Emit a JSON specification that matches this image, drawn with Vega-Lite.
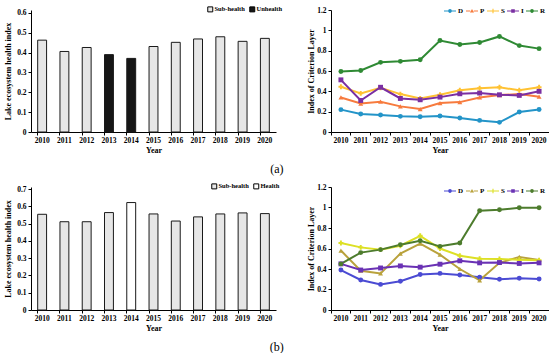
{
  "$schema": "https://vega.github.io/schema/vega-lite/v6.json",
  "padding": {"top": 5, "left": 4, "right": 0, "bottom": 0},
  "background": "white",
  "config": {
    "view": {"stroke": null},
    "font": "Liberation Serif",
    "axis": {
      "domainColor": "#000000", "tickColor": "#000000", "labelColor": "#000000", "titleColor": "#000000",
      "labelFont": "Liberation Serif", "titleFont": "Liberation Serif",
      "labelFontWeight": "bold", "titleFontWeight": "bold",
      "labelFontSize": 7.5, "titleFontSize": 8, "tickSize": 3, "grid": false, "domainWidth": 1, "tickWidth": 1
    },
    "legend": {"labelFont": "Liberation Serif", "labelFontWeight": "bold", "labelFontSize": 7, "labelColor": "#000000"}
  },
  "datasets": {
    "barsA": [
      {"Year": 2010, "Value": 0.463, "Status": "Sub-health"},
      {"Year": 2011, "Value": 0.406, "Status": "Sub-health"},
      {"Year": 2012, "Value": 0.426, "Status": "Sub-health"},
      {"Year": 2013, "Value": 0.39, "Status": "Unhealth"},
      {"Year": 2014, "Value": 0.371, "Status": "Unhealth"},
      {"Year": 2015, "Value": 0.431, "Status": "Sub-health"},
      {"Year": 2016, "Value": 0.452, "Status": "Sub-health"},
      {"Year": 2017, "Value": 0.469, "Status": "Sub-health"},
      {"Year": 2018, "Value": 0.48, "Status": "Sub-health"},
      {"Year": 2019, "Value": 0.457, "Status": "Sub-health"},
      {"Year": 2020, "Value": 0.472, "Status": "Sub-health"}
    ],
    "barsB": [
      {"Year": 2010, "Value": 0.554, "Status": "Sub-health"},
      {"Year": 2011, "Value": 0.511, "Status": "Sub-health"},
      {"Year": 2012, "Value": 0.511, "Status": "Sub-health"},
      {"Year": 2013, "Value": 0.564, "Status": "Sub-health"},
      {"Year": 2014, "Value": 0.622, "Status": "Health"},
      {"Year": 2015, "Value": 0.556, "Status": "Sub-health"},
      {"Year": 2016, "Value": 0.515, "Status": "Sub-health"},
      {"Year": 2017, "Value": 0.539, "Status": "Sub-health"},
      {"Year": 2018, "Value": 0.556, "Status": "Sub-health"},
      {"Year": 2019, "Value": 0.562, "Status": "Sub-health"},
      {"Year": 2020, "Value": 0.558, "Status": "Sub-health"}
    ],
    "linesA": [
      {"Year": 2010, "Index": "D", "Value": 0.22}, {"Year": 2011, "Index": "D", "Value": 0.177}, {"Year": 2012, "Index": "D", "Value": 0.167}, {"Year": 2013, "Index": "D", "Value": 0.154}, {"Year": 2014, "Index": "D", "Value": 0.15}, {"Year": 2015, "Index": "D", "Value": 0.157}, {"Year": 2016, "Index": "D", "Value": 0.137}, {"Year": 2017, "Index": "D", "Value": 0.114}, {"Year": 2018, "Index": "D", "Value": 0.095}, {"Year": 2019, "Index": "D", "Value": 0.196}, {"Year": 2020, "Index": "D", "Value": 0.222},
      {"Year": 2010, "Index": "P", "Value": 0.34}, {"Year": 2011, "Index": "P", "Value": 0.28}, {"Year": 2012, "Index": "P", "Value": 0.298}, {"Year": 2013, "Index": "P", "Value": 0.252}, {"Year": 2014, "Index": "P", "Value": 0.226}, {"Year": 2015, "Index": "P", "Value": 0.285}, {"Year": 2016, "Index": "P", "Value": 0.294}, {"Year": 2017, "Index": "P", "Value": 0.34}, {"Year": 2018, "Index": "P", "Value": 0.363}, {"Year": 2019, "Index": "P", "Value": 0.373}, {"Year": 2020, "Index": "P", "Value": 0.347},
      {"Year": 2010, "Index": "S", "Value": 0.445}, {"Year": 2011, "Index": "S", "Value": 0.38}, {"Year": 2012, "Index": "S", "Value": 0.435}, {"Year": 2013, "Index": "S", "Value": 0.373}, {"Year": 2014, "Index": "S", "Value": 0.33}, {"Year": 2015, "Index": "S", "Value": 0.366}, {"Year": 2016, "Index": "S", "Value": 0.41}, {"Year": 2017, "Index": "S", "Value": 0.43}, {"Year": 2018, "Index": "S", "Value": 0.44}, {"Year": 2019, "Index": "S", "Value": 0.41}, {"Year": 2020, "Index": "S", "Value": 0.44},
      {"Year": 2010, "Index": "I", "Value": 0.513}, {"Year": 2011, "Index": "I", "Value": 0.31}, {"Year": 2012, "Index": "I", "Value": 0.44}, {"Year": 2013, "Index": "I", "Value": 0.33}, {"Year": 2014, "Index": "I", "Value": 0.317}, {"Year": 2015, "Index": "I", "Value": 0.343}, {"Year": 2016, "Index": "I", "Value": 0.376}, {"Year": 2017, "Index": "I", "Value": 0.383}, {"Year": 2018, "Index": "I", "Value": 0.366}, {"Year": 2019, "Index": "I", "Value": 0.36}, {"Year": 2020, "Index": "I", "Value": 0.4},
      {"Year": 2010, "Index": "R", "Value": 0.595}, {"Year": 2011, "Index": "R", "Value": 0.605}, {"Year": 2012, "Index": "R", "Value": 0.685}, {"Year": 2013, "Index": "R", "Value": 0.695}, {"Year": 2014, "Index": "R", "Value": 0.71}, {"Year": 2015, "Index": "R", "Value": 0.9}, {"Year": 2016, "Index": "R", "Value": 0.86}, {"Year": 2017, "Index": "R", "Value": 0.88}, {"Year": 2018, "Index": "R", "Value": 0.94}, {"Year": 2019, "Index": "R", "Value": 0.85}, {"Year": 2020, "Index": "R", "Value": 0.82}
    ],
    "linesB": [
      {"Year": 2010, "Index": "D", "Value": 0.39}, {"Year": 2011, "Index": "D", "Value": 0.293}, {"Year": 2012, "Index": "D", "Value": 0.25}, {"Year": 2013, "Index": "D", "Value": 0.28}, {"Year": 2014, "Index": "D", "Value": 0.347}, {"Year": 2015, "Index": "D", "Value": 0.357}, {"Year": 2016, "Index": "D", "Value": 0.341}, {"Year": 2017, "Index": "D", "Value": 0.32}, {"Year": 2018, "Index": "D", "Value": 0.3}, {"Year": 2019, "Index": "D", "Value": 0.31}, {"Year": 2020, "Index": "D", "Value": 0.302},
      {"Year": 2010, "Index": "P", "Value": 0.58}, {"Year": 2011, "Index": "P", "Value": 0.383}, {"Year": 2012, "Index": "P", "Value": 0.357}, {"Year": 2013, "Index": "P", "Value": 0.55}, {"Year": 2014, "Index": "P", "Value": 0.647}, {"Year": 2015, "Index": "P", "Value": 0.54}, {"Year": 2016, "Index": "P", "Value": 0.4}, {"Year": 2017, "Index": "P", "Value": 0.29}, {"Year": 2018, "Index": "P", "Value": 0.46}, {"Year": 2019, "Index": "P", "Value": 0.518}, {"Year": 2020, "Index": "P", "Value": 0.489},
      {"Year": 2010, "Index": "S", "Value": 0.653}, {"Year": 2011, "Index": "S", "Value": 0.611}, {"Year": 2012, "Index": "S", "Value": 0.589}, {"Year": 2013, "Index": "S", "Value": 0.627}, {"Year": 2014, "Index": "S", "Value": 0.724}, {"Year": 2015, "Index": "S", "Value": 0.6}, {"Year": 2016, "Index": "S", "Value": 0.53}, {"Year": 2017, "Index": "S", "Value": 0.5}, {"Year": 2018, "Index": "S", "Value": 0.498}, {"Year": 2019, "Index": "S", "Value": 0.49}, {"Year": 2020, "Index": "S", "Value": 0.486},
      {"Year": 2010, "Index": "I", "Value": 0.45}, {"Year": 2011, "Index": "I", "Value": 0.39}, {"Year": 2012, "Index": "I", "Value": 0.41}, {"Year": 2013, "Index": "I", "Value": 0.43}, {"Year": 2014, "Index": "I", "Value": 0.418}, {"Year": 2015, "Index": "I", "Value": 0.447}, {"Year": 2016, "Index": "I", "Value": 0.48}, {"Year": 2017, "Index": "I", "Value": 0.46}, {"Year": 2018, "Index": "I", "Value": 0.463}, {"Year": 2019, "Index": "I", "Value": 0.454}, {"Year": 2020, "Index": "I", "Value": 0.46},
      {"Year": 2010, "Index": "R", "Value": 0.45}, {"Year": 2011, "Index": "R", "Value": 0.56}, {"Year": 2012, "Index": "R", "Value": 0.589}, {"Year": 2013, "Index": "R", "Value": 0.637}, {"Year": 2014, "Index": "R", "Value": 0.676}, {"Year": 2015, "Index": "R", "Value": 0.621}, {"Year": 2016, "Index": "R", "Value": 0.653}, {"Year": 2017, "Index": "R", "Value": 0.968}, {"Year": 2018, "Index": "R", "Value": 0.978}, {"Year": 2019, "Index": "R", "Value": 0.997}, {"Year": 2020, "Index": "R", "Value": 0.997}
    ],
    "empty": []
  },
  "resolve": {"scale": {"color": "independent", "fill": "independent", "shape": "independent"}, "legend": {"color": "independent", "fill": "independent", "shape": "independent"}},
  "spacing": 8,
  "vconcat": [
    {
      "title": {"text": "(a)", "orient": "bottom", "anchor": "middle", "fontSize": 12, "font": "Liberation Serif", "fontWeight": "normal", "color": "#000000", "offset": 9},
      "spacing": 55,
      "bounds": "flush",
      "resolve": {"scale": {"color": "independent", "fill": "independent", "shape": "independent"}},
      "hconcat": [
        {
          "width": 245, "height": 122,
          "data": {"name": "barsA"},
          "mark": {"type": "bar", "stroke": "#1a1a1a", "strokeWidth": 1},
          "encoding": {
            "x": {"field": "Year", "type": "ordinal", "scale": {"paddingInner": 0.6, "paddingOuter": 0.3},
                  "axis": {"title": "Year", "labelAngle": 0, "bandPosition": 0, "labelPadding": 1, "titlePadding": 3}},
            "y": {"field": "Value", "type": "quantitative", "scale": {"domain": [0, 0.615], "nice": false},
                  "axis": {"title": "Lake ecosystem health index", "values": [0, 0.1, 0.2, 0.3, 0.4, 0.5, 0.6], "format": "~g", "titlePadding": 4}},
            "fill": {"field": "Status", "type": "nominal",
                     "scale": {"domain": ["Sub-health", "Unhealth"], "range": ["#e6e6e6", "#161616"]},
                     "legend": {"orient": "none", "legendX": 176, "legendY": -4, "direction": "horizontal", "title": null,
                                "symbolType": "square", "symbolSize": 25, "symbolStrokeColor": "#000000", "symbolStrokeWidth": 1,
                                "labelFontSize": 6.5, "labelOffset": 1, "columnPadding": 2}}
          }
        },
        {
          "width": 218, "height": 122,
          "data": {"name": "linesA"},
          "encoding": {
            "x": {"field": "Year", "type": "ordinal", "scale": {"type": "band", "paddingInner": 0, "paddingOuter": 0},
                  "axis": {"title": "Year", "labelAngle": 0, "bandPosition": 0, "labelPadding": 1, "titlePadding": 3}},
            "y": {"field": "Value", "type": "quantitative", "scale": {"domain": [0, 1.2]},
                  "axis": {"title": "Index of Criterion Layer", "values": [0, 0.2, 0.4, 0.6, 0.8, 1, 1.2], "format": "~g", "titlePadding": 1}}
          },
          "resolve": {"scale": {"color": "independent", "shape": "independent"}},
          "layer": [
            {
              "mark": {"type": "line", "strokeWidth": 2},
              "encoding": {"color": {"field": "Index", "type": "nominal", "scale": {"domain": ["D", "P", "S", "I", "R"], "range": ["#2394c8", "#f77b3e", "#ffc233", "#7a2fa2", "#2f8a34"]}, "legend": null}}
            },
            {
              "mark": {"type": "point", "filled": true, "size": 24, "opacity": 1},
              "encoding": {
                "color": {"field": "Index", "type": "nominal", "scale": {"domain": ["D", "P", "S", "I", "R"], "range": ["#2394c8", "#f77b3e", "#ffc233", "#7a2fa2", "#2f8a34"]}, "legend": null},
                "shape": {"field": "Index", "type": "nominal", "scale": {"domain": ["D", "P", "S", "I", "R"], "range": ["circle", "triangle-up", "cross", "square", "circle"]}, "legend": null}
              }
            },
            {
              "data": {"name": "empty"},
              "mark": {"type": "point", "filled": true, "opacity": 1},
              "encoding": {
                "x": null, "y": null,
                "color": {"field": "Index", "type": "nominal", "scale": {"domain": ["D", "P", "S", "I", "R"], "range": ["#2394c8", "#f77b3e", "#ffc233", "#7a2fa2", "#2f8a34"]},
                          "legend": {"orient": "none", "legendX": 113, "legendY": -5, "direction": "horizontal", "title": null, "symbolSize": 144, "symbolStrokeWidth": 0, "labelOffset": 2, "columnPadding": 2}},
                "shape": {"field": "Index", "type": "nominal", "scale": {"domain": ["D", "P", "S", "I", "R"], "range": [
                  "M-1,-0.09H-0.3V0.09H-1Z M0.3,-0.09H1V0.09H0.3Z M-0.32,0A0.32,0.32 0 1,0 0.32,0A0.32,0.32 0 1,0 -0.32,0Z",
                  "M-1,-0.09H-0.3V0.09H-1Z M0.3,-0.09H1V0.09H0.3Z M0,-0.34L0.34,0.24H-0.34Z",
                  "M-1,-0.09H1V0.09H-1Z M-0.09,-0.36H0.09V-0.09H-0.09Z M-0.09,0.09H0.09V0.36H-0.09Z",
                  "M-1,-0.09H-0.3V0.09H-1Z M0.3,-0.09H1V0.09H0.3Z M-0.3,-0.3H0.3V0.3H-0.3Z",
                  "M-1,-0.09H-0.3V0.09H-1Z M0.3,-0.09H1V0.09H0.3Z M-0.32,0A0.32,0.32 0 1,0 0.32,0A0.32,0.32 0 1,0 -0.32,0Z"
                ]},
                          "legend": {"orient": "none", "legendX": 113, "legendY": -5, "direction": "horizontal", "title": null, "symbolSize": 144, "symbolStrokeWidth": 0, "labelOffset": 2, "columnPadding": 2}}
              }
            }
          ]
        }
      ]
    },
    {
      "title": {"text": "(b)", "orient": "bottom", "anchor": "middle", "fontSize": 12, "font": "Liberation Serif", "fontWeight": "normal", "color": "#000000", "offset": 9},
      "spacing": 55,
      "bounds": "flush",
      "resolve": {"scale": {"color": "independent", "fill": "independent", "shape": "independent"}},
      "hconcat": [
        {
          "width": 245, "height": 123,
          "data": {"name": "barsB"},
          "mark": {"type": "bar", "stroke": "#1a1a1a", "strokeWidth": 1},
          "encoding": {
            "x": {"field": "Year", "type": "ordinal", "scale": {"paddingInner": 0.6, "paddingOuter": 0.3},
                  "axis": {"title": "Year", "labelAngle": 0, "bandPosition": 0, "labelPadding": 1, "titlePadding": 3}},
            "y": {"field": "Value", "type": "quantitative", "scale": {"domain": [0, 0.712], "nice": false},
                  "axis": {"title": "Lake ecosystem health index", "values": [0, 0.1, 0.2, 0.3, 0.4, 0.5, 0.6, 0.7], "format": "~g", "titlePadding": 4}},
            "fill": {"field": "Status", "type": "nominal",
                     "scale": {"domain": ["Sub-health", "Health"], "range": ["#e6e6e6", "#ffffff"]},
                     "legend": {"orient": "none", "legendX": 180, "legendY": -4, "direction": "horizontal", "title": null,
                                "symbolType": "square", "symbolSize": 25, "symbolStrokeColor": "#000000", "symbolStrokeWidth": 1,
                                "labelFontSize": 6.5, "labelOffset": 1, "columnPadding": 2}}
          }
        },
        {
          "width": 218, "height": 123,
          "data": {"name": "linesB"},
          "encoding": {
            "x": {"field": "Year", "type": "ordinal", "scale": {"type": "band", "paddingInner": 0, "paddingOuter": 0},
                  "axis": {"title": "Year", "labelAngle": 0, "bandPosition": 0, "labelPadding": 1, "titlePadding": 3}},
            "y": {"field": "Value", "type": "quantitative", "scale": {"domain": [0, 1.2]},
                  "axis": {"title": "Index of Criterion Layer", "values": [0, 0.2, 0.4, 0.6, 0.8, 1, 1.2], "format": "~g", "titlePadding": 1}}
          },
          "resolve": {"scale": {"color": "independent", "shape": "independent"}},
          "layer": [
            {
              "mark": {"type": "line", "strokeWidth": 2},
              "encoding": {"color": {"field": "Index", "type": "nominal", "scale": {"domain": ["D", "P", "S", "I", "R"], "range": ["#4b4bd3", "#b9a23c", "#dde025", "#6a32b4", "#4d7c2d"]}, "legend": null}}
            },
            {
              "mark": {"type": "point", "filled": true, "size": 24, "opacity": 1},
              "encoding": {
                "color": {"field": "Index", "type": "nominal", "scale": {"domain": ["D", "P", "S", "I", "R"], "range": ["#4b4bd3", "#b9a23c", "#dde025", "#6a32b4", "#4d7c2d"]}, "legend": null},
                "shape": {"field": "Index", "type": "nominal", "scale": {"domain": ["D", "P", "S", "I", "R"], "range": ["circle", "triangle-up", "cross", "square", "circle"]}, "legend": null}
              }
            },
            {
              "data": {"name": "empty"},
              "mark": {"type": "point", "filled": true, "opacity": 1},
              "encoding": {
                "x": null, "y": null,
                "color": {"field": "Index", "type": "nominal", "scale": {"domain": ["D", "P", "S", "I", "R"], "range": ["#4b4bd3", "#b9a23c", "#dde025", "#6a32b4", "#4d7c2d"]},
                          "legend": {"orient": "none", "legendX": 113, "legendY": -2, "direction": "horizontal", "title": null, "symbolSize": 144, "symbolStrokeWidth": 0, "labelOffset": 2, "columnPadding": 2}},
                "shape": {"field": "Index", "type": "nominal", "scale": {"domain": ["D", "P", "S", "I", "R"], "range": [
                  "M-1,-0.09H-0.3V0.09H-1Z M0.3,-0.09H1V0.09H0.3Z M-0.32,0A0.32,0.32 0 1,0 0.32,0A0.32,0.32 0 1,0 -0.32,0Z",
                  "M-1,-0.09H-0.3V0.09H-1Z M0.3,-0.09H1V0.09H0.3Z M0,-0.34L0.34,0.24H-0.34Z",
                  "M-1,-0.09H1V0.09H-1Z M-0.09,-0.36H0.09V-0.09H-0.09Z M-0.09,0.09H0.09V0.36H-0.09Z",
                  "M-1,-0.09H-0.3V0.09H-1Z M0.3,-0.09H1V0.09H0.3Z M-0.3,-0.3H0.3V0.3H-0.3Z",
                  "M-1,-0.09H-0.3V0.09H-1Z M0.3,-0.09H1V0.09H0.3Z M-0.32,0A0.32,0.32 0 1,0 0.32,0A0.32,0.32 0 1,0 -0.32,0Z"
                ]},
                          "legend": {"orient": "none", "legendX": 113, "legendY": -2, "direction": "horizontal", "title": null, "symbolSize": 144, "symbolStrokeWidth": 0, "labelOffset": 2, "columnPadding": 2}}
              }
            }
          ]
        }
      ]
    }
  ]
}
